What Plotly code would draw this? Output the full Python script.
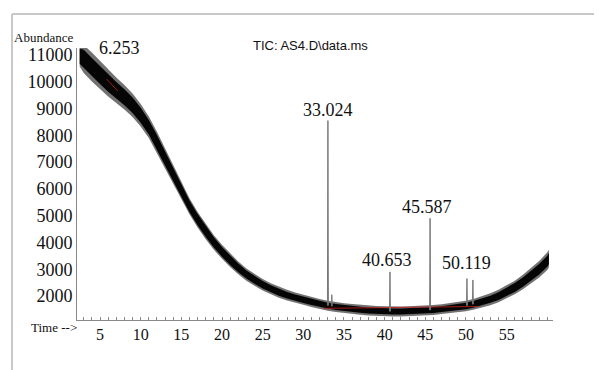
import numpy as np
import plotly.graph_objects as go

# ---- data ----
time_pts = [2.5, 3, 4, 5, 6, 7, 8, 9, 10, 11, 12, 13, 14, 15, 16, 17, 18, 19, 20,
            21, 22, 23, 24, 25, 26, 27, 28, 29, 30, 31, 32, 33, 34, 35, 36, 37, 38,
            39, 40, 41, 42, 43, 44, 45, 46, 47, 48, 49, 50, 51, 52, 53, 54, 55, 56,
            57, 58, 59, 60, 60.2]
center = [10950, 10850, 10550, 10250, 9950, 9680, 9420, 9120, 8750, 8300, 7750, 7150,
          6550, 5950, 5350, 4850, 4400, 4000, 3650, 3330, 3050, 2800, 2600, 2420, 2270,
          2140, 2030, 1940, 1860, 1780, 1700, 1640, 1590, 1550, 1520, 1490, 1460, 1440,
          1430, 1420, 1420, 1430, 1440, 1460, 1480, 1510, 1540, 1580, 1630, 1700, 1780,
          1880, 2000, 2150, 2320, 2520, 2750, 3000, 3300, 3400]
core_hw = [280, 340, 340, 330, 320, 310, 300, 290, 280, 270, 260, 250, 240, 230, 220,
           210, 200, 190, 180, 170, 160, 150, 145, 140, 135, 130, 125, 120, 120, 115,
           115, 110, 110, 110, 110, 110, 110, 110, 110, 110, 110, 110, 110, 110, 110,
           110, 115, 115, 120, 125, 130, 135, 145, 155, 165, 175, 185, 195, 205, 205]
spike_hw = [380, 520, 540, 520, 500, 480, 460, 440, 420, 400, 380, 360, 340, 320, 300,
            290, 280, 270, 260, 250, 240, 230, 220, 215, 210, 205, 200, 195, 190, 190,
            185, 185, 185, 185, 185, 185, 185, 185, 185, 185, 185, 185, 185, 185, 185,
            185, 190, 190, 195, 200, 210, 220, 230, 240, 255, 270, 290, 310, 330, 330]

peak_times = [33.024, 33.5, 40.653, 45.587, 50.119, 50.85]
peak_tops = [8550, 2050, 2900, 4900, 2650, 2600]

labels = ["6.253", "33.024", "40.653", "45.587", "50.119"]
label_x = [7.4, 33.0, 40.3, 45.2, 50.1]
label_y = [11250, 8940, 3330, 5330, 3230]

y_ticks = [2000, 3000, 4000, 5000, 6000, 7000, 8000, 9000, 10000, 11000]
x_ticks = [5, 10, 15, 20, 25, 30, 35, 40, 45, 50, 55]

# ---- layout geometry (page body has an 8px margin) ----
OFF = 8
W, H = 602 - OFF, 370 - OFF
L, R, T, B = 77 - OFF, 49, 48 - OFF, 50
PW, PH = W - L - R, H - T - B


def px(x):
    return (x - OFF - L) / PW


def py(y):
    return (H - B - (y - OFF)) / PH


t = np.array(time_pts)
c = np.array(center)
ch = np.array(core_hw)
sh = np.array(spike_hw)

fig = go.Figure()

# outer spiky envelope
fig.add_trace(go.Scatter(
    x=np.concatenate([t, t[::-1]]),
    y=np.concatenate([c + sh, (c - sh)[::-1]]),
    fill="toself", fillcolor="rgba(20,20,20,0.6)", line=dict(width=0),
    mode="lines", hoverinfo="skip", showlegend=False))
# dense core band
fig.add_trace(go.Scatter(
    x=np.concatenate([t, t[::-1]]),
    y=np.concatenate([c + ch, (c - ch)[::-1]]),
    fill="toself", fillcolor="rgb(5,5,5)", line=dict(width=0),
    mode="lines", hoverinfo="skip", showlegend=False))

# integration baseline (red)
fig.add_trace(go.Scatter(x=[32.5, 51.5],
                         y=[float(np.interp(32.5, t, c)) - 130, float(np.interp(51.5, t, c)) - 130],
                         mode="lines", line=dict(color="rgba(200,30,30,0.8)", width=1),
                         hoverinfo="skip", showlegend=False))
fig.add_trace(go.Scatter(x=[5.8, 7.2], y=[10100, 9650], mode="lines",
                         line=dict(color="rgba(200,30,30,0.8)", width=1),
                         hoverinfo="skip", showlegend=False))

# peaks
for pt, top in zip(peak_times, peak_tops):
    base = float(np.interp(pt, t, c))
    fig.add_trace(go.Scatter(x=[pt - 0.06, pt, pt + 0.06], y=[base, top, base],
                             mode="lines", line=dict(color="#777777", width=1),
                             hoverinfo="skip", showlegend=False))

serif = "Liberation Serif, Times New Roman, serif"
annotations = []
for txt, lx, ly in zip(labels, label_x, label_y):
    annotations.append(dict(x=lx, y=ly, xref="x", yref="y", text=txt, showarrow=False,
                            xanchor="center", yanchor="middle",
                            font=dict(family=serif, size=18, color="#111")))

annotations += [
    dict(x=px(310), y=py(45), xref="paper", yref="paper", text="TIC: AS4.D\\data.ms",
         xanchor="center", yanchor="middle",
         showarrow=False, font=dict(family="Liberation Sans, Arial, sans-serif", size=13, color="#111")),
    dict(x=px(12), y=py(38), xref="paper", yref="paper", text="Abundance",
         xanchor="left", yanchor="middle",
         showarrow=False, font=dict(family=serif, size=13, color="#111")),
    dict(x=px(29), y=py(327), xref="paper", yref="paper", text="Time -->",
         xanchor="left", yanchor="middle",
         showarrow=False, font=dict(family=serif, size=13, color="#111")),
]

shapes = [
    dict(type="line", xref="paper", yref="paper", x0=px(12), x1=px(602), y0=py(14), y1=py(14),
         line=dict(color="#c8c8c8", width=2)),
    dict(type="line", xref="paper", yref="paper", x0=px(12), x1=px(12), y0=py(14), y1=py(370),
         line=dict(color="#c8c8c8", width=2)),
]

fig.update_layout(
    width=W, height=H,
    margin=dict(l=L, r=R, t=T, b=B),
    paper_bgcolor="white", plot_bgcolor="white",
    annotations=annotations, shapes=shapes,
    showlegend=False,
)
fig.update_xaxes(range=[2.17, 60.7], tickvals=x_ticks, ticktext=[str(v) for v in x_ticks],
                 showgrid=False, zeroline=False, showline=True, linecolor="#888", linewidth=1,
                 ticks="inside", ticklen=3, tickcolor="#888",
                 minor=dict(dtick=1, tick0=0, ticks="inside", ticklen=3, tickcolor="#888"),
                 tickfont=dict(family=serif, size=16, color="#111"))
fig.update_yaxes(range=[1105, 11260], tickvals=y_ticks, ticktext=[str(v) for v in y_ticks],
                 showgrid=False, zeroline=False, showline=True, linecolor="#888", linewidth=1,
                 ticks="", tickfont=dict(family=serif, size=18, color="#111"))

fig.write_html("out.html")
